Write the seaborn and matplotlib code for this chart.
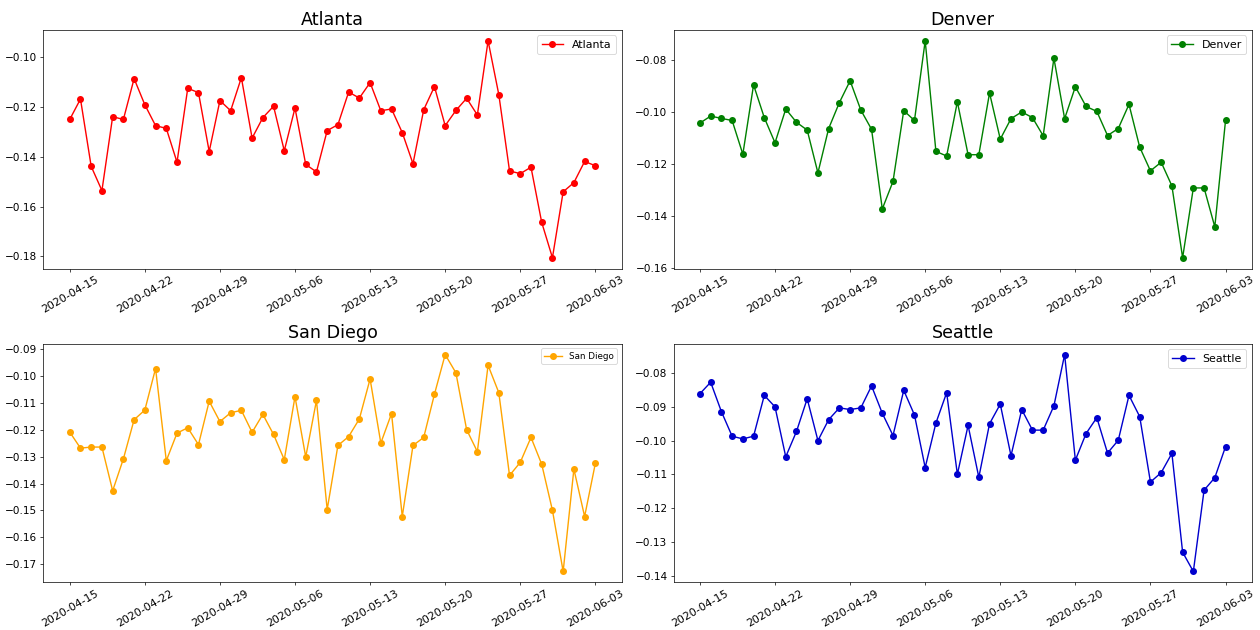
import matplotlib
matplotlib.use("Agg")
import matplotlib.pyplot as plt
import matplotlib.dates as mdates
import numpy as np
import pandas as pd
import seaborn as sns

dates = pd.date_range("2020-04-15", "2020-06-03", freq="D")

atlanta = [-0.1249, -0.1167, -0.1438, -0.1535, -0.1238, -0.1249, -0.1085, -0.1190, -0.1274, -0.1285,
           -0.1421, -0.1124, -0.1141, -0.1378, -0.1173, -0.1214, -0.1081, -0.1324, -0.1242, -0.1196,
           -0.1375, -0.1203, -0.1430, -0.1460, -0.1294, -0.1270, -0.1139, -0.1163, -0.1101, -0.1214,
           -0.1207, -0.1302, -0.1427, -0.1210, -0.1117, -0.1274, -0.1213, -0.1164, -0.1231, -0.0933,
           -0.1149, -0.1456, -0.1467, -0.1441, -0.1663, -0.1805, -0.1540, -0.1503, -0.1418, -0.1435]

denver = [-0.1042, -0.1015, -0.1024, -0.1032, -0.1162, -0.0895, -0.1021, -0.1118, -0.0988, -0.1039,
          -0.1069, -0.1234, -0.1063, -0.0963, -0.0879, -0.0992, -0.1066, -0.1373, -0.1267, -0.0994,
          -0.1032, -0.0725, -0.1151, -0.1169, -0.0960, -0.1164, -0.1164, -0.0926, -0.1104, -0.1025,
          -0.0999, -0.1021, -0.1091, -0.0792, -0.1025, -0.0902, -0.0978, -0.0997, -0.1090, -0.1063,
          -0.0970, -0.1135, -0.1226, -0.1193, -0.1284, -0.1561, -0.1292, -0.1292, -0.1442, -0.1032]

san_diego = [-0.1208, -0.1268, -0.1264, -0.1264, -0.1427, -0.1308, -0.1162, -0.1126, -0.0971, -0.1315,
             -0.1212, -0.1192, -0.1255, -0.1093, -0.1169, -0.1136, -0.1127, -0.1209, -0.1142, -0.1217,
             -0.1311, -0.1076, -0.1301, -0.1090, -0.1497, -0.1258, -0.1225, -0.1159, -0.1010, -0.1249,
             -0.1139, -0.1523, -0.1258, -0.1228, -0.1067, -0.0919, -0.0987, -0.1199, -0.1281, -0.0959,
             -0.1061, -0.1370, -0.1321, -0.1228, -0.1328, -0.1500, -0.1728, -0.1346, -0.1523, -0.1325]

seattle = [-0.0861, -0.0827, -0.0914, -0.0987, -0.0995, -0.0987, -0.0866, -0.0900, -0.1048, -0.0973,
           -0.0876, -0.1000, -0.0938, -0.0903, -0.0908, -0.0903, -0.0838, -0.0919, -0.0985, -0.0851,
           -0.0924, -0.1080, -0.0948, -0.0858, -0.1100, -0.0955, -0.1109, -0.0950, -0.0892, -0.1045,
           -0.0908, -0.0969, -0.0969, -0.0897, -0.0745, -0.1058, -0.0979, -0.0932, -0.1037, -0.0999,
           -0.0866, -0.0929, -0.1123, -0.1095, -0.1038, -0.1331, -0.1388, -0.1147, -0.1110, -0.1018]

cities = ["Atlanta", "Denver", "San Diego", "Seattle"]
series = [atlanta, denver, san_diego, seattle]
colors = ["red", "green", "orange", "mediumblue"]
legend_sizes = [12.5, 12.5, 10, 12.5]

tick_dates = pd.date_range("2020-04-15", "2020-06-03", freq="7D")

fig, axes = plt.subplots(2, 2, figsize=(20, 10), dpi=63)
fig.subplots_adjust(left=0.0345, right=0.9935, top=0.9524, bottom=0.0757,
                    wspace=0.09, hspace=0.315)

for ax, city, vals, col, lsz in zip(axes.flat, cities, series, colors, legend_sizes):
    df = pd.DataFrame({"date": dates, "value": vals})
    sns.lineplot(data=df, x="date", y="value", ax=ax, color=col, marker="o",
                 markersize=8, markeredgewidth=0, linewidth=1.6, label=city)
    ax.set_title(city, fontsize=20)
    ax.set_xlabel("")
    ax.set_ylabel("")
    ax.set_xticks(tick_dates)
    ax.xaxis.set_major_formatter(mdates.DateFormatter("%Y-%m-%d"))
    ax.tick_params(axis="x", labelrotation=30, labelsize=12.5)
    ax.tick_params(axis="y", labelsize=12)
    ax.legend(loc="upper right", fontsize=lsz)

fig.savefig("out.png", dpi=63)
